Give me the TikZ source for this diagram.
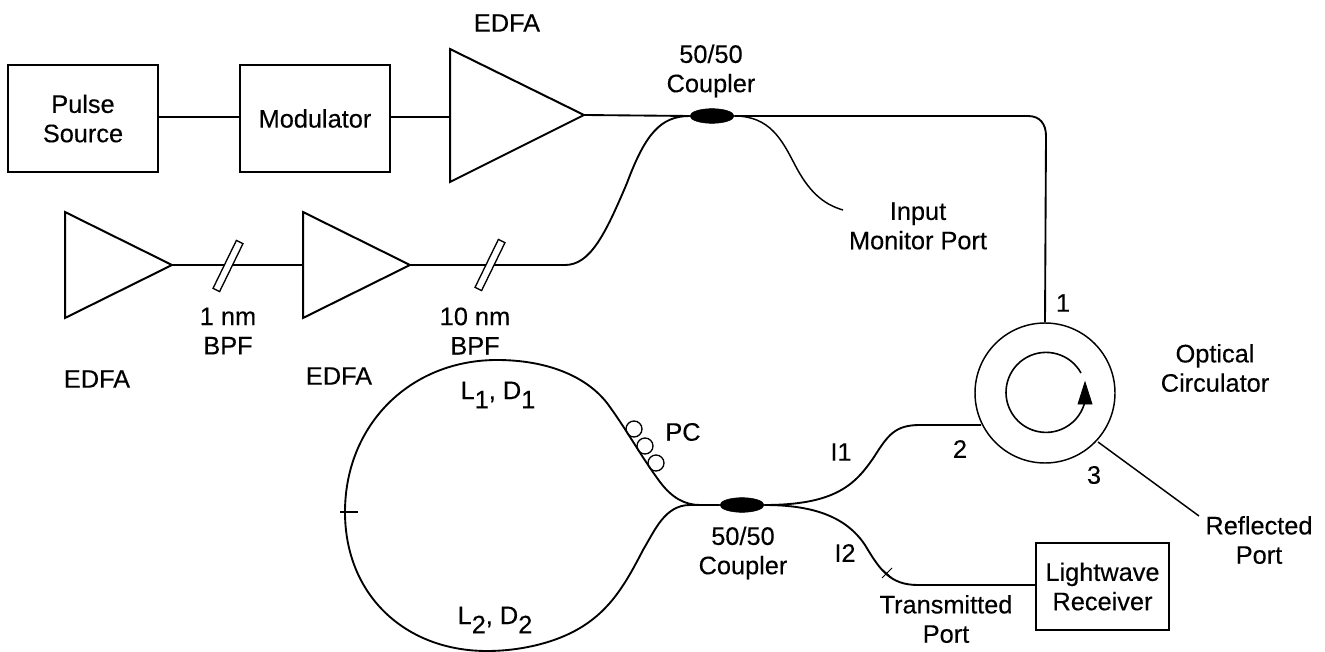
\documentclass[tikz,border=0pt]{standalone}
\usepackage{fontspec}
\setmainfont[FakeBold=0.25]{Liberation Sans}
\usetikzlibrary{shapes.geometric,arrows.meta}
\newcommand{\lowsub}[1]{\raisebox{-7pt}{\fontsize{19}{19}\selectfont #1}}
\tikzset{
  x=0.75pt,y=-0.75pt,
  lbl/.style={inner sep=0pt,align=center,font=\fontsize{19}{22}\selectfont},
  boxnode/.style={draw,line width=1.6pt,inner sep=0pt,align=center,font=\fontsize{19}{22}\selectfont},
  fiber/.style={line width=1.4pt,line join=round},
  thin fiber/.style={line width=1.1pt},
  amp/.style={line width=1.5pt,line join=miter},
  cpl/.style={ellipse,fill=black,draw=black,inner sep=0pt,minimum width=33pt,minimum height=11pt},
  pcring/.style={circle,draw,line width=1pt,inner sep=0pt,minimum size=12pt},
  bpf/.style={draw,line width=1pt,fill=white,rotate=64,minimum width=40pt,minimum height=5.5pt,inner sep=0pt},
}
\begin{document}
\begin{tikzpicture}
\useasboundingbox (0,0) rectangle (1325,652);
% boxes
\node[boxnode,minimum width=112.5pt,minimum height=80pt] (src) at (83,118.5) {Pulse\\Source};
\node[boxnode,minimum width=112.5pt,minimum height=80pt] (mod) at (315,118.5) {Modulator};
\node[boxnode,minimum width=100pt,minimum height=65pt] (rx) at (1102.5,586.5) {Lightwave\\Receiver};
\coordinate (rowA) at (0,117);
% amplifiers
\coordinate (a1L) at (450,117); \coordinate (a1T) at (584,115);
\draw[amp] (450,49) -- (a1T) -- (450,182) -- cycle;
\coordinate (a2T) at (172,265);
\draw[amp] (65,212) -- (a2T) -- (65,318) -- cycle;
\coordinate (a3L) at (303,265); \coordinate (a3T) at (410,265);
\draw[amp] (a3L |- 0,212) -- (a3T) -- (a3L |- 0,318) -- cycle;
% couplers
\node[cpl] (c1) at (712,116) {};
\node[cpl] (c2) at (742,505) {};
% circulator
\node[circle,draw,line width=1.1pt,minimum size=105pt,inner sep=0pt] (circ) at (1045,393) {};
\coordinate (p1) at (circ.north);
\coordinate (p2) at (981,425);
\coordinate (p3) at (1098,442);
\draw[line width=1.2pt] (1081,373) arc[start angle=-29,end angle=-350,radius=40];
\draw[fill=black,line width=.6pt] (1085,382) -- (1092,404) -- (1078,404) -- cycle;
% top fibres
\draw[fiber] (src.east |- rowA) -- (mod.west |- rowA);
\draw[fiber] (mod.east |- rowA) -- (a1L);
\draw[fiber] (a1T) -- (c1.west);
\draw[fiber] (c1.east) -- (1028,116) .. controls (1040,116) and (1046,124) .. (1046,136) -- (p1);
\coordinate (mon) at (843,210);
\draw[thin fiber] (c1.east) .. controls (770,116) and (782,140) .. (795,165) .. controls (808,190) and (822,204) .. (mon);
\draw[fiber] (a2T) -- (a3L);
\draw[fiber] (a3T) -- (565,265) .. controls (590,265) and (605,235) .. (627,183) .. controls (645,135) and (660,116) .. (c1.west);
% bandpass filters
\node[bpf] (f1) at (228,266) {};
\node[bpf] (f2) at (490,265) {};
% loop
\coordinate (loopL) at (345,512);
\draw[fiber] (c2.west) -- (700,505) .. controls (685,505) and (672,498) .. (660,482)
  .. controls (640,455) and (627,430) .. (607,403)
  .. controls (585,375) and (545,360) .. (497,360)
  .. controls (410,360) and (345,425) .. (loopL);
\draw[fiber] (c2.west) -- (690,505) .. controls (665,505) and (655,530) .. (643,550)
  .. controls (625,585) and (610,610) .. (580,628)
  .. controls (555,643) and (520,651) .. (487,651)
  .. controls (405,651) and (345,595) .. (loopL);
\draw[line width=1.1pt] (loopL) ++(-5,0) -- +(18,0);
% PC
\node[pcring] (pc1) at (634,429) {};
\node[pcring] (pc2) at (645,446) {};
\node[pcring] (pc3) at (656,463) {};
% lower right fibres
\draw[fiber] (c2.east) .. controls (835,505) and (855,485) .. (874,457) .. controls (888,435) and (895,425) .. (920,425) -- (p2);
\draw[fiber] (c2.east) .. controls (810,505) and (845,515) .. (865,545) .. controls (880,570) and (890,585) .. (918,585) -- (rx.west |- 0,585);
\draw[line width=.7pt] (882,578) -- (892,568);
\draw[line width=.7pt] (883,570) -- (892,578);
\coordinate (refl) at (1199,516);
\draw[line width=1.1pt] (p3) -- (refl);
% labels
\node[lbl] (t1) at (507,23) {EDFA};
\node[lbl] (t2) at (711,71) {50/50\\Coupler};
\node[lbl] (t3) at (918,226) {Input\\Monitor Port};
\node[lbl] (t4) at (228,331) {1 nm\\BPF};
\node[lbl] (t5) at (475,331) {10 nm\\BPF};
\node[lbl] (t6) at (97,379) {EDFA};
\node[lbl] (t7) at (339,376) {EDFA};
\node[lbl] (t8) at (498,395) {L\lowsub{1}, D\lowsub{1}};
\node[lbl] (t9) at (495,620) {L\lowsub{2}, D\lowsub{2}};
\node[lbl] (t10) at (683,432) {PC};
\node[lbl] (t11) at (743,553) {50/50\\Coupler};
\node[lbl] (t12) at (841,452) {I1};
\node[lbl] (t13) at (845,553) {I2};
\node[lbl] (t14) at (960,449) {2};
\node[lbl] (t15) at (1094,475) {3};
\node[lbl] (t16) at (1063,303) {1};
\node[lbl] (t17) at (1215,368) {Optical\\Circulator};
\node[lbl] (t18) at (1259,540) {Reflected\\Port};
\node[lbl] (t19) at (946,619) {Transmitted\\Port};
\end{tikzpicture}
\end{document}
